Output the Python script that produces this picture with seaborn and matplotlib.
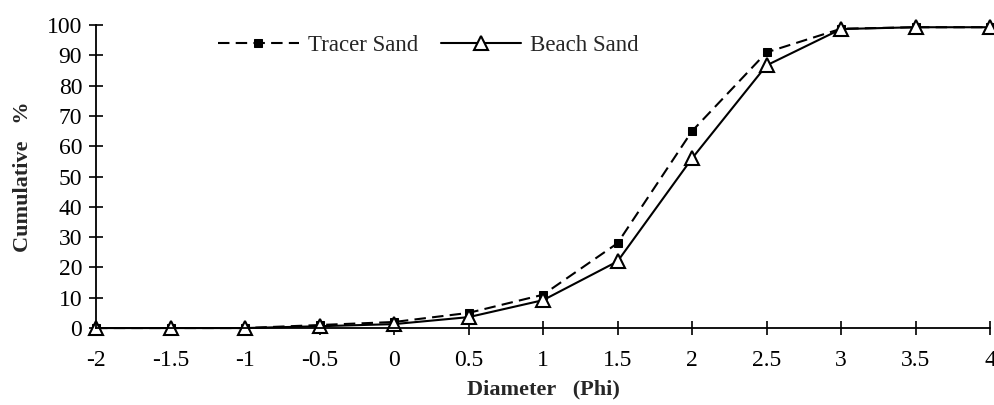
import numpy as np
import pandas as pd
import seaborn as sns
import matplotlib.pyplot as plt

# grain size data
phi = [-2, -1.5, -1, -0.5, 0, 0.5, 1, 1.5, 2, 2.5, 3, 3.5, 4]
tracer_sand = [0, 0, 0, 1, 2, 5, 11, 28, 65, 91, 98.8, 99.3, 99.3]
beach_sand = [0, 0, 0, 0.6, 1.3, 3.6, 9.2, 22, 56, 86.7, 98.7, 99.3, 99.3]
x_tick_labels = ["-2", "-1.5", "-1", "-0.5", "0", "0.5", "1", "1.5", "2", "2.5", "3", "3.5", "4"]
y_ticks = list(range(0, 101, 10))

sns.set_theme(style="ticks")
plt.rcParams["font.family"] = ["Liberation Serif", "DejaVu Serif"]

fig = plt.figure(figsize=(9.95, 4.05), dpi=100)
ax = fig.add_axes([0.0965, 0.19, 0.8985, 0.748])

sns.lineplot(x=phi, y=tracer_sand, ax=ax, color="black", lw=1.5,
             marker="s", markersize=5.5, markeredgecolor="black",
             dashes=False, label="Tracer Sand", clip_on=False)
ax.lines[-1].set_linestyle((0, (5.5, 3)))
sns.lineplot(x=phi, y=beach_sand, ax=ax, color="black", lw=1.5,
             marker="^", markersize=10, markerfacecolor="white",
             markeredgecolor="black", markeredgewidth=1.5,
             label="Beach Sand", clip_on=False)

ax.set_xlim(-2, 4)
ax.set_ylim(0, 100)
ax.set_xticks(phi)
ax.set_xticklabels(x_tick_labels)
ax.set_yticks(y_ticks)
ax.tick_params(direction="inout", length=10, width=1.2, labelsize=17,
               color="black", labelcolor="black", pad=5)
ax.tick_params(axis="x", pad=11)

sns.despine(ax=ax)
for s in ["left", "bottom"]:
    ax.spines[s].set_linewidth(1.3)
    ax.spines[s].set_color("black")

ax.set_xlabel("Diameter   (Phi)", fontsize=16, fontweight="bold", labelpad=6)
ax.set_ylabel("Cumulative   %", fontsize=16, fontweight="bold", labelpad=10)

ax.legend(loc="center", bbox_to_anchor=(0.372, 0.934), ncol=2, frameon=False,
          fontsize=16.5, handlelength=3.5, handletextpad=0.4, columnspacing=1.0)

fig.savefig("out.png", dpi=100)
